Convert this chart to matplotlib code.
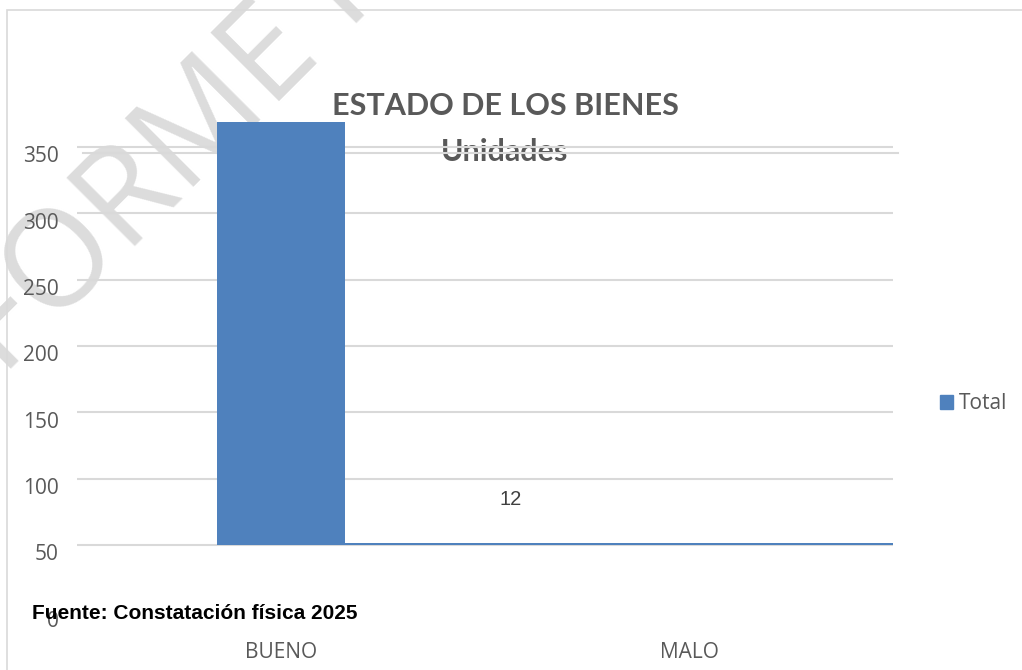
import matplotlib.pyplot as plt
import matplotlib.transforms as mtransforms
from matplotlib.patches import Rectangle
import numpy as np

# data
categories = ["BUENO", "MALO"]
totals = [369, 12]
yticks = [0, 50, 100, 150, 200, 250, 300, 350]
title = "ESTADO DE LOS BIENES"
subtitle = "Unidades"
source = "Fuente: Constatación física 2025"
watermark = "INFORME FINAL"

BLUE = "#4F81BD"
GRID = "#D9D9D9"
TXT = "#595959"
BASE = 50  # bars sit on the 50 line in the original

fig = plt.figure(figsize=(10.22, 6.70), dpi=100)
W, H = 1022, 670

def fx(px):
    return px / W

def fy(py):
    return 1 - py / H

# watermark behind everything
fig.text(fx(-96), fy(476), watermark, rotation=45, rotation_mode="anchor",
         ha="left", va="baseline", fontsize=97, family="Open Sans",
         weight="medium", color="#DCDCDC", zorder=-1)

# outer chart border (right and bottom edges fall outside the picture)
fig.patches.append(Rectangle((fx(7), -0.1), 1.2, fy(10) + 0.1,
                             transform=fig.transFigure, fill=False,
                             edgecolor=GRID, lw=1.2, zorder=-0.5))

# title sits under the gridlines, as in the original
fig.text(fx(505), fy(115), title, ha="center", va="baseline", fontsize=22,
         family="Lato", weight="bold", color=TXT, zorder=-0.2)
fig.text(fx(505), fy(161), subtitle, ha="center", va="baseline", fontsize=22,
         family="Lato", weight="bold", color=TXT, zorder=-0.2)

ax = fig.add_axes([fx(77), fy(611.3), fx(893) - fx(77), fy(100) - fy(611.3)])
ax.set_facecolor("none")
ax.set_xlim(-0.5, 1.5)
ax.set_ylim(0, 385.4)

for t in yticks[1:]:
    ax.axhline(t, color=GRID, lw=1.5, zorder=1)
# doubled top gridline artefact
ax.plot([-0.485, 1.512], [345.5, 345.5], color=GRID, lw=1.5, zorder=1,
        clip_on=False)

x = np.arange(len(categories))
w = 0.314
vals = np.array(totals, dtype=float)
ax.bar(x[0], vals[0] - BASE, bottom=BASE, width=w, color=BLUE, zorder=2)
# the small bar collapses into a thin line running to the right edge
ax.bar(x[0] + w / 2, max(vals[1] - BASE, 1.6), bottom=BASE,
       width=1.5 - (x[0] + w / 2), align="edge", color=BLUE, zorder=2)
ax.text(0.564, 84, str(totals[1]), ha="center", va="center", fontsize=14.5,
        family="Liberation Sans", color="#404040")

# y labels sit a few pixels below their gridlines in the original
ax.set_yticks([])
off = mtransforms.ScaledTranslation(-18 / 100, -10 / 100, fig.dpi_scale_trans)
for t in yticks:
    ax.text(0, t, str(t), transform=ax.get_yaxis_transform() + off,
            ha="right", va="center", family="Open Sans", fontsize=15,
            color=TXT, zorder=0)

ax.set_xticks(x)
ax.set_xticklabels(categories, family="Open Sans", fontsize=15, color=TXT)
ax.tick_params(axis="x", length=0, pad=22)
for s in ax.spines.values():
    s.set_visible(False)

# legend
fig.patches.append(Rectangle((fx(940), fy(409)), fx(13), fy(395) - fy(409),
                             transform=fig.transFigure, color=BLUE))
fig.text(fx(959), fy(409), "Total", ha="left", va="baseline", fontsize=15,
         family="Open Sans", color=TXT)

fig.text(fx(32), fy(619), source, ha="left", va="baseline", fontsize=15,
         family="Liberation Sans", weight="bold", color="black", zorder=4)

fig.savefig("out.png", dpi=100)
